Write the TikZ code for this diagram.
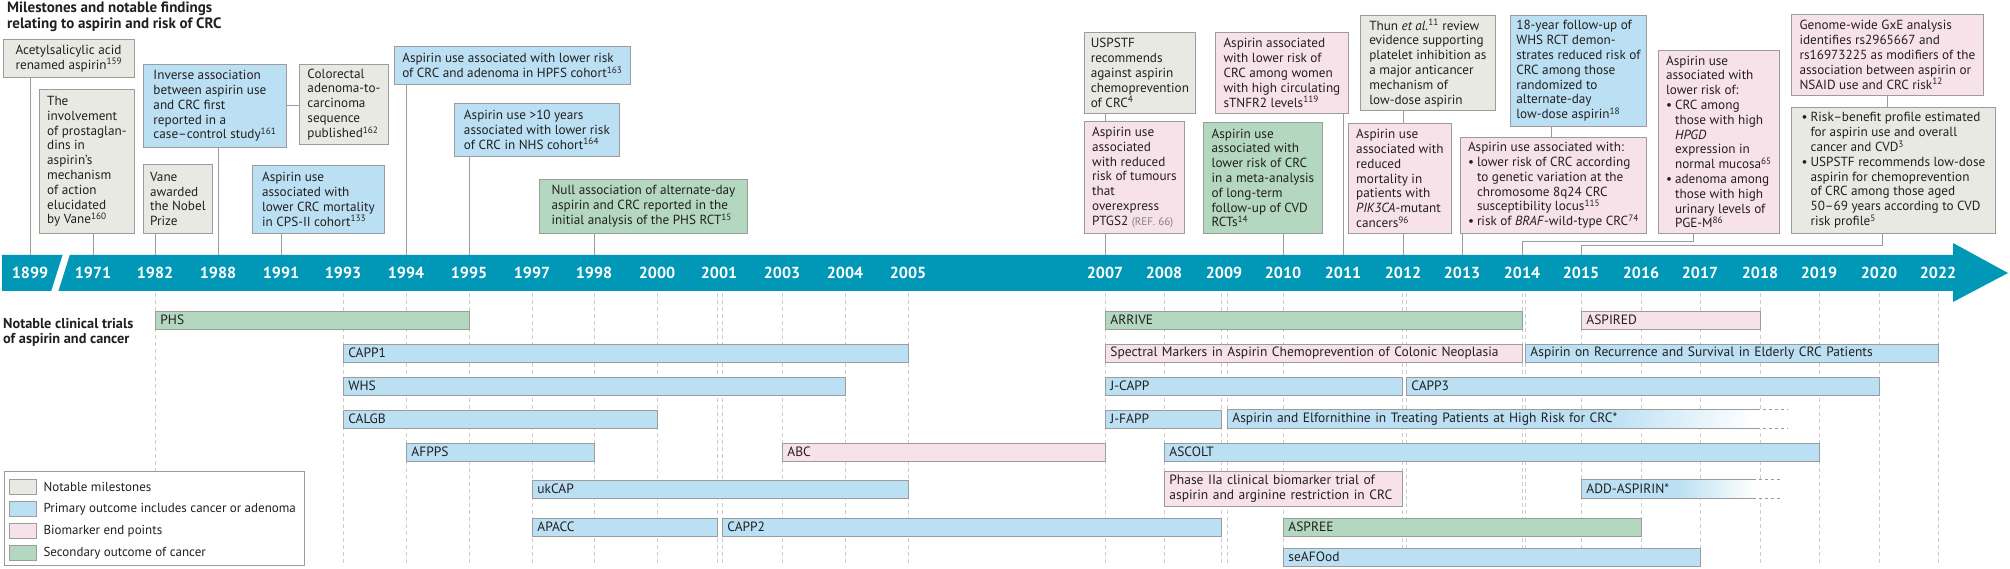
\documentclass[tikz,border=0pt]{standalone}
\usepackage{fontspec}
\setmainfont{PT Sans}
\usetikzlibrary{calc}

\definecolor{ink}{HTML}{231F20}
\definecolor{band}{HTML}{0098B6}
\definecolor{edgegray}{HTML}{9C9C9C}
\definecolor{gridgray}{HTML}{CDCDCD}
\definecolor{milegray}{HTML}{E9E9E4}
\definecolor{primblue}{HTML}{BBE0F3}
\definecolor{biopink}{HTML}{F8E2EA}
\definecolor{secgreen}{HTML}{B4D8BF}

\pgfdeclarehorizontalshading{elffade}{100bp}{color(0bp)=(primblue); color(59bp)=(primblue); color(72bp)=(white); color(100bp)=(white)}
\pgfdeclarehorizontalshading{addfade}{100bp}{color(0bp)=(primblue); color(49bp)=(primblue); color(68bp)=(white); color(100bp)=(white)}

\newcommand\refn[1]{\textsuperscript{#1}}
\newlength\bgap
\setlength\bgap{9pt}
\newcommand\bpt{\makebox[\bgap][l]{\textbullet}}
\newcommand\bcont{\hspace*{\bgap}}

\begin{document}
\begin{tikzpicture}[x=1pt, y=-1pt,
  evt/.style={draw=edgegray, line width=0.8pt, anchor=north west, align=left,
    inner xsep=4pt, inner ysep=2pt, text=ink, font=\fontsize{13.2}{14.8}\selectfont},
  mile/.style={evt, fill=milegray},
  prim/.style={evt, fill=primblue},
  biom/.style={evt, fill=biopink},
  seco/.style={evt, fill=secgreen},
  bar/.style={draw=edgegray, line width=0.8pt, anchor=west, align=left,
    inner xsep=5pt, inner ysep=0pt, minimum height=18pt, text=ink,
    font=\fontsize{13.5}{15}\selectfont},
  year/.style={text=white, font=\bfseries\fontsize{16}{18}\selectfont},
  conn/.style={draw=edgegray, line width=1pt},
  gridline/.style={draw=gridgray, line width=0.8pt, dash pattern=on 4pt off 3pt},
  swatch/.style={draw=edgegray, line width=0.8pt, minimum width=27pt, minimum height=15pt, inner sep=0pt}]
\useasboundingbox (0,0) rectangle (2010,569);

% Headings
\node[anchor=north west, align=left, inner sep=0pt, text=ink, font=\bfseries\fontsize{15}{15.5}\selectfont]
  (toptitle) at (7,2) {Milestones and notable findings\\relating to aspirin and risk of CRC};
\node[anchor=north west, align=left, inner sep=0pt, text=ink, font=\bfseries\fontsize{14.3}{15.5}\selectfont]
  (trialtitle) at (3,318) {Notable clinical trials\\of aspirin and cancer};

% Time axis
\fill[band] (2,255) -- (1953,255) -- (1953,243) -- (2008,273) -- (1953,302) -- (1953,291) -- (2,291) -- cycle;
\fill[white] (63,254) -- (70,254) -- (58,292) -- (51,292) -- cycle;
\foreach \yr/\xx in {1899/30, 1971/93, 1982/155, 1988/218, 1991/281, 1993/343, 1994/406,
    1995/469, 1997/532, 1998/594, 2000/657, 2001/719, 2003/782, 2004/845, 2005/908,
    2007/1105, 2008/1164, 2009/1224, 2010/1283, 2011/1343, 2012/1403, 2013/1462,
    2014/1522, 2015/1581, 2016/1641, 2017/1700, 2018/1760, 2019/1819, 2020/1879, 2022/1938}{
  \node[year] (y\yr) at (\xx,273) {\yr};
  \coordinate (t\yr) at (\xx,255);
}

% Milestones and findings
\node[mile, minimum width=131pt, minimum height=38pt] (acid) at (3,39) {Acetylsalicylic acid\\renamed aspirin\refn{159}};
\node[mile, minimum width=95pt, minimum height=144pt] (vane) at (39,89) {The\\involvement\\of prostaglan-\\dins in\\aspirin's\\mechanism\\of action\\elucidated\\by Vane\refn{160}};
\node[prim, minimum width=143pt, minimum height=83pt] (casectl) at (143,64) {Inverse association\\between aspirin use\\and CRC first\\reported in a\\case–control study\refn{161}};
\node[mile, minimum width=89pt, minimum height=80pt] (adenoma) at (299,64) {Colorectal\\adenoma-to-\\carcinoma\\sequence\\published\refn{162}};
\node[mile, minimum width=69pt, minimum height=69pt] (nobel) at (143,164) {Vane\\awarded\\the Nobel\\Prize};
\node[prim, minimum width=132pt, minimum height=68pt] (cps) at (252,165) {Aspirin use\\associated with\\lower CRC mortality\\in CPS-II cohort\refn{133}};
\node[prim, minimum width=236pt, minimum height=38pt] (hpfs) at (394,46) {Aspirin use associated with lower risk\\of CRC and adenoma in HPFS cohort\refn{163}};
\node[prim, minimum width=165pt, minimum height=53pt] (nhs) at (454,103) {Aspirin use >10 years\\associated with lower risk\\of CRC in NHS cohort\refn{164}};
\node[seco, minimum width=208pt, minimum height=54pt] (phsnull) at (539,179) {Null association of alternate-day\\aspirin and CRC reported in the\\initial analysis of the PHS RCT\refn{15}};
\node[mile, minimum width=111pt, minimum height=81pt] (uspstf) at (1084,32) {USPSTF\\recommends\\against aspirin\\chemoprevention\\of CRC\refn{4}};
\node[biom, minimum width=100pt, minimum height=112pt] (ptgs) at (1084,121) {Aspirin use\\associated\\with reduced\\risk of tumours\\that\\overexpress\\PTGS2 {\color{gray}\fontsize{11}{12}\selectfont(REF. 66)}};
\node[biom, minimum width=133pt, minimum height=81pt] (stnfr) at (1215,32) {Aspirin associated\\with lower risk of\\CRC among women\\with high circulating\\sTNFR2 levels\refn{119}};
\node[seco, minimum width=119pt, minimum height=111pt] (meta) at (1203,122) {Aspirin use\\associated with\\lower risk of CRC\\in a meta-analysis\\of long-term\\follow-up of CVD\\RCTs\refn{14}};
\node[mile, minimum width=135pt, minimum height=95pt] (thun) at (1360,15) {Thun \textit{et al.}\refn{11} review\\evidence supporting\\platelet inhibition as\\a major anticancer\\mechanism of\\low-dose aspirin};
\node[biom, minimum width=103pt, minimum height=110pt] (pik) at (1348,123) {Aspirin use\\associated with\\reduced\\mortality in\\patients with\\\textit{PIK3CA}-mutant\\cancers\refn{96}};
\node[prim, minimum width=136pt, minimum height=111pt] (whs18) at (1510,15) {18-year follow-up of\\WHS RCT demon-\\strates reduced risk of\\CRC among those\\randomized to\\alternate-day\\low-dose aspirin\refn{18}};
\node[biom, minimum width=186pt, minimum height=96pt] (chr8) at (1460,137) {Aspirin use associated with:\\\bpt lower risk of CRC according\\\bcont to genetic variation at the\\\bcont chromosome 8q24 CRC\\\bcont susceptibility locus\refn{115}\\\bpt risk of \textit{BRAF}-wild-type CRC\refn{74}};
\node[biom, minimum width=121pt, minimum height=183pt] (hpgd) at (1658,50) {Aspirin use\\associated with\\lower risk of:\\\bpt CRC among\\\bcont those with high\\\bcont \textit{HPGD}\\\bcont expression in\\\bcont normal mucosa\refn{65}\\\bpt adenoma among\\\bcont those with high\\\bcont urinary levels of\\\bcont PGE-M\refn{86}};
\node[biom, minimum width=192pt, minimum height=81pt] (gxe) at (1791,14) {Genome-wide GxE analysis\\identifies rs2965667 and\\rs16973225 as modifiers of the\\association between aspirin or\\NSAID use and CRC risk\refn{12}};
\node[mile, minimum width=204pt, minimum height=126pt] (riskben) at (1791,107) {\bpt Risk–benefit profile estimated\\\bcont for aspirin use and overall\\\bcont cancer and CVD\refn{3}\\\bpt USPSTF recommends low-dose\\\bcont aspirin for chemoprevention\\\bcont of CRC among those aged\\\bcont 50–69 years according to CVD\\\bcont risk profile\refn{5}};

% Connectors to the axis
\draw[conn] (acid.south -| t1899) -- (t1899);
\draw[conn] (vane.south -| t1971) -- (t1971);
\draw[conn] (casectl.south -| t1988) -- (t1988);
\draw[conn] (casectl.east) -- (casectl.east -| adenoma.west);
\draw[conn] (nobel.south -| t1982) -- (t1982);
\draw[conn] (cps.south -| t1991) -- (t1991);
\draw[conn] (hpfs.south -| t1994) -- (t1994);
\draw[conn] (nhs.south -| t1995) -- (t1995);
\draw[conn] (phsnull.south -| t1998) -- (t1998);
\draw[conn] (uspstf.south -| t2007) -- (ptgs.north -| t2007);
\draw[conn] (ptgs.south -| t2007) -- (t2007);
\draw[conn] (stnfr.south -| t2011) -- (t2011);
\draw[conn] (meta.south -| t2010) -- (t2010);
\draw[conn] (thun.south -| t2012) -- (pik.north -| t2012);
\draw[conn] (pik.south -| t2012) -- (t2012);
\draw[conn] ([xshift=-27pt]whs18.south) -- ([xshift=-27pt]whs18.south |- chr8.north);
\draw[conn] (chr8.south -| t2013) -- (t2013);
\draw[conn] ([xshift=-25pt]hpgd.south) |- ([yshift=13pt]t2014) -- (t2014);
\draw[conn] (gxe.south) -- (gxe.south |- riskben.north);
\draw[conn] ([xshift=-11pt]riskben.south) |- ([yshift=9pt]t2015) -- (t2015);

% Trial grid
\foreach \xx in {155,343,406,469,532,594,657,717,722,782,845,908,1105,1164,1221,1227,1283,
    1402,1406,1522,1525,1581,1641,1700,1760,1819,1879,1938}
  \draw[gridline] (\xx,293) -- (\xx,566);

% Trials
\node[bar, fill=secgreen, text width=304pt] (phs) at (155,320) {PHS};
\node[bar, fill=secgreen, text width=407pt] (arrive) at (1105,320) {ARRIVE};
\node[bar, fill=biopink, text width=169pt] (aspired) at (1581,320) {ASPIRED};
\node[bar, fill=primblue, text width=555pt] (capp1) at (343,353) {CAPP1};
\node[bar, fill=biopink, text width=407pt] (spectral) at (1105,353) {Spectral Markers in Aspirin Chemoprevention of Colonic Neoplasia};
\node[bar, fill=primblue, text width=403pt] (elderly) at (1525,353) {Aspirin on Recurrence and Survival in Elderly CRC Patients};
\node[bar, fill=primblue, text width=492pt] (whs) at (343,386) {WHS};
\node[bar, fill=primblue, text width=287pt] (jcapp) at (1105,386) {J-CAPP};
\node[bar, fill=primblue, text width=463pt] (capp3) at (1406,386) {CAPP3};
\node[bar, fill=primblue, text width=304pt] (calgb) at (343,419) {CALGB};
\node[bar, fill=primblue, text width=106pt] (jfapp) at (1105,419) {J-FAPP};
\node[bar, draw=none, shade, shading=elffade, text width=550pt] (elfo) at (1227,419) {Aspirin and Elfornithine in Treating Patients at High Risk for CRC*};
\node[bar, fill=primblue, text width=178pt] (afpps) at (406,452) {AFPPS};
\node[bar, fill=biopink, text width=313pt] (abc) at (782,452) {ABC};
\node[bar, fill=primblue, text width=645pt] (ascolt) at (1164,452) {ASCOLT};
\node[bar, fill=primblue, text width=366pt] (ukcap) at (532,489) {ukCAP};
\node[bar, fill=biopink, text width=228pt, minimum height=35pt] (argin) at (1164,489) {Phase IIa clinical biomarker trial of\\aspirin and arginine restriction in CRC};
\node[bar, draw=none, shade, shading=addfade, text width=191pt] (addasp) at (1581,489) {ADD-ASPIRIN*};
\node[bar, fill=primblue, text width=175pt] (apacc) at (532,527) {APACC};
\node[bar, fill=primblue, text width=489pt] (capp2) at (722,527) {CAPP2};
\node[bar, fill=secgreen, text width=348pt] (aspree) at (1283,527) {ASPREE};
\node[bar, fill=primblue, text width=407pt] (seafood) at (1283,557) {seAFOod};

% Open-ended trials
\draw[edgegray, line width=0.8pt] ([xshift=530pt]elfo.north west) -- (elfo.north west) -- (elfo.south west) -- ([xshift=530pt]elfo.south west);
\draw[edgegray, line width=0.8pt, dash pattern=on 3pt off 3pt] ([xshift=530pt]elfo.north west) -- (elfo.north east);
\draw[edgegray, line width=0.8pt, dash pattern=on 3pt off 3pt] ([xshift=530pt]elfo.south west) -- (elfo.south east);
\draw[edgegray, line width=0.8pt] ([xshift=172pt]addasp.north west) -- (addasp.north west) -- (addasp.south west) -- ([xshift=172pt]addasp.south west);
\draw[edgegray, line width=0.8pt, dash pattern=on 3pt off 3pt] ([xshift=172pt]addasp.north west) -- (addasp.north east);
\draw[edgegray, line width=0.8pt, dash pattern=on 3pt off 3pt] ([xshift=172pt]addasp.south west) -- (addasp.south east);

% Legend
\node[draw=edgegray, line width=0.8pt, fill=white, anchor=north west, minimum width=300pt, minimum height=94pt, inner sep=0pt] (legend) at (4,471) {};
\foreach \lab/\col [count=\i] in {Notable milestones/milegray,
    Primary outcome includes cancer or adenoma/primblue,
    Biomarker end points/biopink, Secondary outcome of cancer/secgreen}{
  \node[swatch, fill=\col] (sw\i) at (22.5,465+22*\i) {};
  \node[anchor=west, text=ink, font=\fontsize{13}{15}\selectfont] (lg\i) at (40,465+22*\i) {\lab};
}
\end{tikzpicture}
\end{document}
